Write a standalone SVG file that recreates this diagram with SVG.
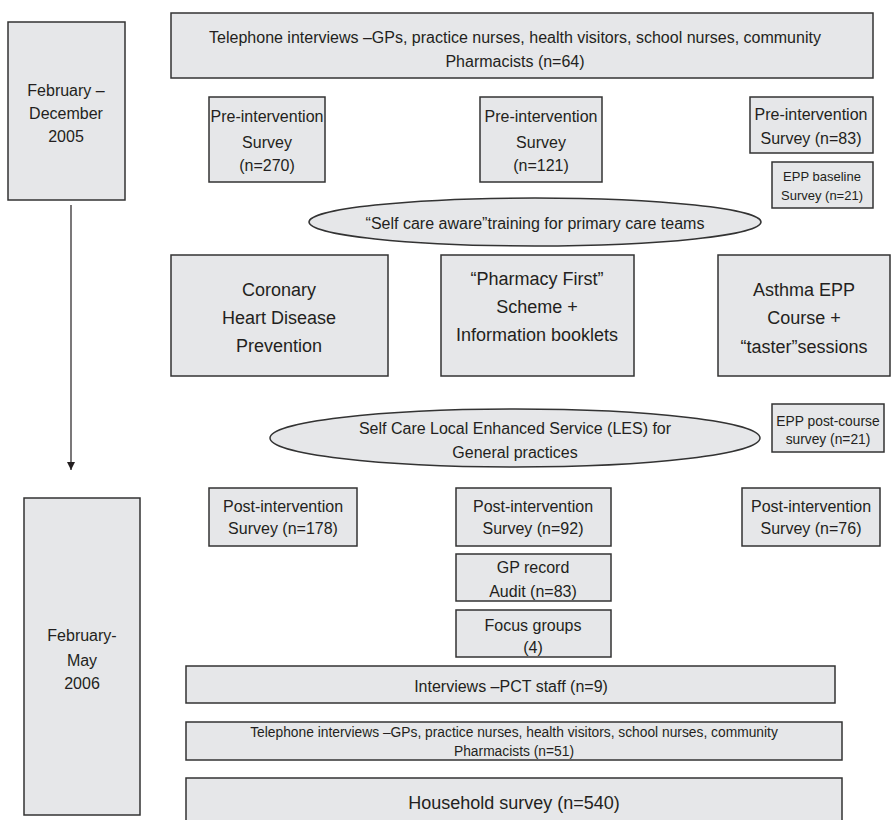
<svg xmlns="http://www.w3.org/2000/svg" width="892" height="820" viewBox="0 0 892 820">
<defs>
<style>
.b{fill:#e6e7e9;stroke:#333;stroke-width:1.5}
text{font-family:"Liberation Sans",Arial,sans-serif;fill:#231f20;text-anchor:middle}
.f16{font-size:16px}
.f18{font-size:18px}
.f13{font-size:13px}
.f14{font-size:13.8px}
</style>
<marker id="ah" viewBox="0 0 10 10" refX="10" refY="5" markerWidth="8" markerHeight="10" markerUnits="userSpaceOnUse" orient="auto">
<path d="M0,0 L10,5 L0,10 z" fill="#231f20"/>
</marker>
</defs>
<rect width="892" height="820" fill="#fff"/>
<g id="connectors">
<line x1="71" y1="205" x2="71" y2="470" stroke="#231f20" stroke-width="1.2" marker-end="url(#ah)"/>
</g>
<g id="period1"><rect class="b" x="8" y="22" width="117" height="178"/>
<text class="f16"><tspan x="66" y="96">February –</tspan><tspan x="66" y="119">December</tspan><tspan x="66" y="142">2005</tspan></text></g>
<g id="period2"><rect class="b" x="24" y="498" width="116" height="317"/>
<text class="f16"><tspan x="82" y="641">February-</tspan><tspan x="82" y="666">May</tspan><tspan x="82" y="689">2006</tspan></text></g>
<g id="tel1"><rect class="b" x="171" y="13" width="702" height="65"/>
<text class="f16"><tspan x="515" y="43">Telephone interviews –GPs, practice nurses, health visitors, school nurses, community</tspan><tspan x="515" y="67">Pharmacists (n=64)</tspan></text></g>
<g id="pre1"><rect class="b" x="209" y="97" width="116" height="85"/>
<text class="f16"><tspan x="267" y="122">Pre-intervention</tspan><tspan x="267" y="148">Survey</tspan><tspan x="267" y="171">(n=270)</tspan></text></g>
<g id="pre2"><rect class="b" x="480" y="97" width="122" height="85"/>
<text class="f16"><tspan x="541" y="122">Pre-intervention</tspan><tspan x="541" y="148">Survey</tspan><tspan x="541" y="171">(n=121)</tspan></text></g>
<g id="pre3"><rect class="b" x="750" y="97" width="123" height="56"/>
<text class="f16"><tspan x="811" y="120">Pre-intervention</tspan><tspan x="811" y="144">Survey (n=83)</tspan></text></g>
<g id="eppbase"><rect class="b" x="772" y="162" width="101" height="46"/>
<text class="f13"><tspan x="822" y="181">EPP baseline</tspan><tspan x="822" y="200">Survey (n=21)</tspan></text></g>
<g id="training"><ellipse class="b" cx="535" cy="222" rx="226" ry="24"/>
<text class="f16" x="535" y="229">“Self care aware”training for primary care teams</text></g>
<g id="chd"><rect class="b" x="171" y="255" width="217" height="121"/>
<text class="f18"><tspan x="279" y="296">Coronary</tspan><tspan x="279" y="324">Heart Disease</tspan><tspan x="279" y="352">Prevention</tspan></text></g>
<g id="pharm"><rect class="b" x="441" y="255" width="193" height="121"/>
<text class="f18"><tspan x="537" y="285">“Pharmacy First”</tspan><tspan x="537" y="313">Scheme +</tspan><tspan x="537" y="341">Information booklets</tspan></text></g>
<g id="asthma"><rect class="b" x="718" y="255" width="172" height="121"/>
<text class="f18"><tspan x="804" y="296">Asthma EPP</tspan><tspan x="804" y="324">Course +</tspan><tspan x="804" y="353">“taster”sessions</tspan></text></g>
<g id="les"><ellipse class="b" cx="515" cy="438" rx="245" ry="29"/>
<text class="f16"><tspan x="515" y="434">Self Care Local Enhanced Service (LES) for</tspan><tspan x="515" y="458">General practices</tspan></text></g>
<g id="epppost"><rect class="b" x="772" y="404" width="112" height="48"/>
<text class="f14"><tspan x="828" y="426">EPP post-course</tspan><tspan x="828" y="444">survey (n=21)</tspan></text></g>
<g id="post1"><rect class="b" x="209" y="488" width="148" height="58"/>
<text class="f16"><tspan x="283" y="512">Post-intervention</tspan><tspan x="283" y="534">Survey (n=178)</tspan></text></g>
<g id="post2"><rect class="b" x="456" y="488" width="155" height="58"/>
<text class="f16"><tspan x="533" y="512">Post-intervention</tspan><tspan x="533" y="534">Survey (n=92)</tspan></text></g>
<g id="post3"><rect class="b" x="742" y="488" width="138" height="58"/>
<text class="f16"><tspan x="811" y="512">Post-intervention</tspan><tspan x="811" y="534">Survey (n=76)</tspan></text></g>
<g id="gp"><rect class="b" x="456" y="554" width="155" height="47"/>
<text class="f16"><tspan x="533" y="573">GP record</tspan><tspan x="533" y="597">Audit (n=83)</tspan></text></g>
<g id="focus"><rect class="b" x="456" y="610" width="155" height="47"/>
<text class="f16"><tspan x="533" y="631">Focus groups</tspan><tspan x="533" y="653">(4)</tspan></text></g>
<g id="pct"><rect class="b" x="186" y="666" width="649" height="37"/>
<text class="f16" x="511" y="692">Interviews –PCT staff (n=9)</text></g>
<g id="tel2"><rect class="b" x="186" y="722" width="656" height="38"/>
<text class="f14"><tspan x="514" y="737">Telephone interviews –GPs, practice nurses, health visitors, school nurses, community</tspan><tspan x="514" y="756">Pharmacists (n=51)</tspan></text></g>
<g id="household"><rect class="b" x="186" y="778" width="656" height="50"/>
<text class="f18" x="514" y="809">Household survey (n=540)</text></g>
</svg>
